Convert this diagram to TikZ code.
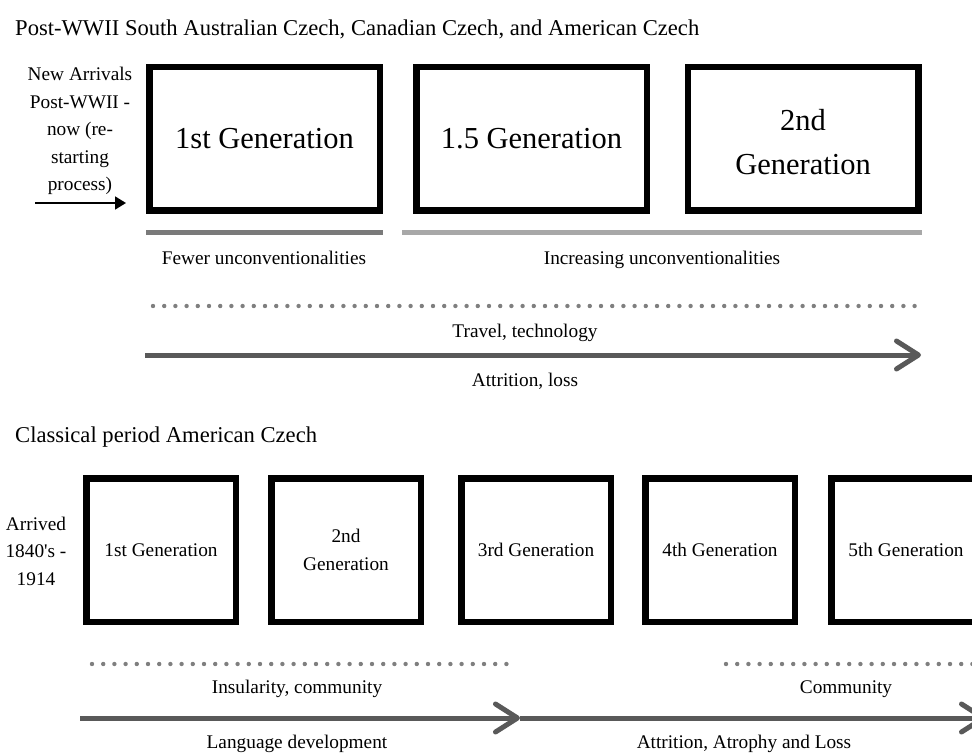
\documentclass[tikz,border=0pt]{standalone}
\usepackage{fontspec}
\setmainfont{Liberation Serif}[Ligatures=TeXOff]
\usetikzlibrary{arrows.meta}

\definecolor{barDark}{HTML}{7A7A7A}
\definecolor{barLight}{HTML}{A8A8A8}
\definecolor{dotGray}{HTML}{7F7F7F}
\definecolor{arrowGray}{HTML}{595959}

\begin{document}
\begin{tikzpicture}[x=1pt,y=-1pt,
  topbox/.style={draw=black, line width=6.5pt, minimum width=230.5pt,
    minimum height=143.5pt, inner sep=0pt, align=center,
    font=\fontsize{30.5}{44}\selectfont},
  lowbox/.style={draw=black, line width=6.5pt, minimum width=149.5pt,
    minimum height=143.5pt, inner sep=0pt, align=center,
    font=\fontsize{19.3}{28}\selectfont},
  heading/.style={font=\fontsize{22.6}{30}\selectfont, anchor=west, inner sep=0pt},
  note/.style={font=\fontsize{19.3}{27.5}\selectfont, inner sep=0pt, align=center},
  tbar/.style={line width=5pt},
  dotline/.style={dotGray, line width=4.4pt, line cap=round,
    dash pattern=on 0pt off 11.2pt},
  timeline/.style={arrowGray, line width=5pt,
    -{Straight Barb[length=22pt,width=28pt,round]}},
]
\useasboundingbox (0,0) rectangle (972,754);
\clip (0,0) rectangle (972,754);

% ---------- Post-WWII migration ----------
\node[heading] (titleA) at (15,29)
  {Post-WWII South Australian Czech, Canadian Czech, and American Czech};

\node[note] (arrivalsA) at (80,131)
  {New Arrivals\\Post-WWII -\\now (re-\\starting\\process)};
\coordinate (inS) at (35,203);
\coordinate (inE) at (126,203);
\draw[line width=1.8pt, -{Triangle[length=11pt,width=13pt]}] (inS) -- (inE);

\node[topbox] (g1) at (264.5,139) {1st Generation};
\node[topbox] (g15) at (531.5,139) {1.5 Generation};
\node[topbox] (g2) at (803,139) {\rule{0pt}{27pt}2nd\\Generation};

\coordinate (barAS) at (146,233);
\coordinate (barAE) at (383,233);
\coordinate (barBS) at (402,233);
\coordinate (barBE) at (922,233);
\draw[tbar, barDark] (barAS) -- (barAE);
\draw[tbar, barLight] (barBS) -- (barBE);

\node[note] (fewer) at (264,258) {Fewer unconventionalities};
\node[note] (incr) at (662,260) {Increasing unconventionalities};

\coordinate (dotAS) at (153,306);
\coordinate (dotAE) at (921,306);
\draw[dotline] (dotAS) -- (dotAE);
\node[note] (travel) at (525,333) {Travel, technology};

\coordinate (tlS) at (145,355);
\coordinate (tlE) at (921,355);
\draw[timeline] (tlS) -- (tlE);
\node[note] (attrA) at (525,381) {Attrition, loss};

% ---------- Classical period ----------
\node[heading] (titleB) at (15,437) {Classical period American Czech};

\node[note] (arrivalsB) at (36,551) {Arrived\\1840's -\\1914};

\node[lowbox] (c1) at (161,550) {1st Generation};
\node[lowbox] (c2) at (346,550) {2nd\\Generation};
\node[lowbox] (c3) at (536,550) {3rd Generation};
\node[lowbox] (c4) at (720,550) {4th Generation};
\node[lowbox] (c5) at (906,550) {5th Generation};

\coordinate (dotBS) at (92,664);
\coordinate (dotBE) at (510,664);
\coordinate (dotCS) at (726,664);
\coordinate (dotCE) at (990,664);
\draw[dotline] (dotBS) -- (dotBE);
\draw[dotline] (dotCS) -- (dotCE);
\node[note] (insular) at (297,689) {Insularity, community};
\node[note] (commun) at (846,689) {Community};

\coordinate (tlBS) at (80,718);
\coordinate (tlBM) at (520,718);
\coordinate (tlBE) at (986,718);
\draw[timeline] (tlBS) -- (tlBM);
\draw[timeline] (tlBM) -- (tlBE);
\node[note] (lang) at (297,744) {Language development};
\node[note] (attrB) at (744,744) {Attrition, Atrophy and Loss};
\end{tikzpicture}
\end{document}
